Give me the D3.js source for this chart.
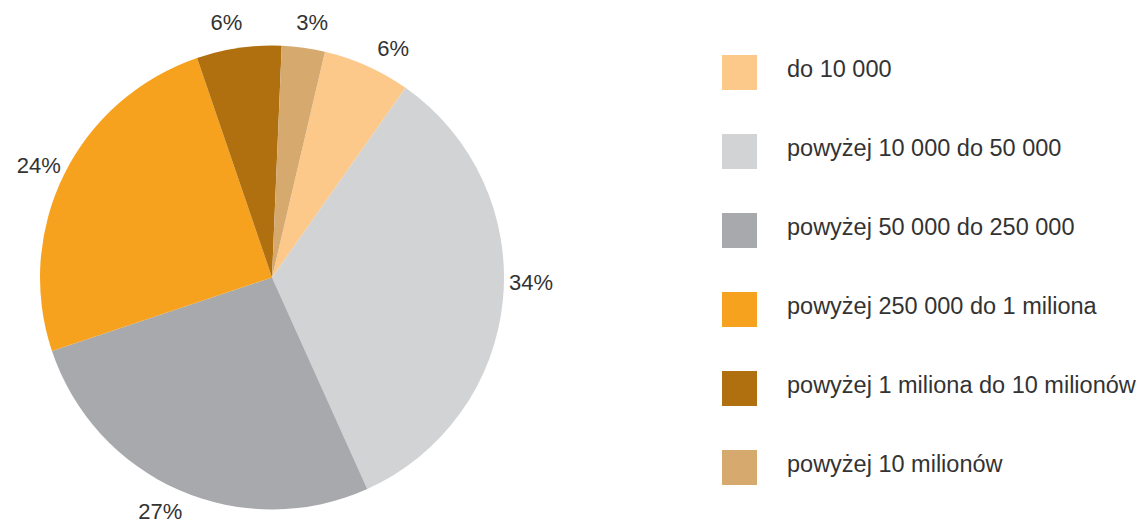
<!DOCTYPE html>
<html>
<head>
<meta charset="utf-8">
<script src="https://cdn.jsdelivr.net/npm/d3@7"></script>
<style>
  html, body { margin: 0; padding: 0; background: #fff; }
  svg { display: block; }
  text { font-family: "Liberation Sans", Arial, Helvetica, sans-serif; fill: #333; }
</style>
</head>
<body>
<svg id="chart" width="1140" height="522"></svg>
<script>
const categories = [
  "do 10 000",
  "powyżej 10 000 do 50 000",
  "powyżej 50 000 do 250 000",
  "powyżej 250 000 do 1 miliona",
  "powyżej 1 miliona do 10 milionów",
  "powyżej 10 milionów"
];
// slice sizes (percent)
const values = [6.1, 33.5, 26.6, 24.9, 5.9, 3.0];
const labels = ["6%", "34%", "27%", "24%", "6%", "3%"];
const colors = ["#FDC98B", "#D1D3D4", "#A7A9AC", "#F7A21E", "#B0700F", "#D6AA6E"];

const svg = d3.select("#chart");
const cx = 272, cy = 277.5, r = 232, labelR = 259;
const start = 13.2 * Math.PI / 180;
// small angular nudges (degrees) for label placement, as in the original layout
const labelNudge = [3.7, -4.4, 1.9, -0.6, -1.9, 1.1];

const data = categories.map((c, i) => ({ name: c, value: values[i], label: labels[i], color: colors[i], nudge: labelNudge[i] }));

const pie = d3.pie().value(d => d.value).sort(null)
  .startAngle(start).endAngle(start + 2 * Math.PI);
const arc = d3.arc().innerRadius(0).outerRadius(r);

const g = svg.append("g").attr("transform", `translate(${cx},${cy})`);
const arcs = pie(data);

g.selectAll("path").data(arcs).join("path")
  .attr("d", arc)
  .attr("fill", d => d.data.color);

g.selectAll("text.lbl").data(arcs).join("text")
  .attr("class", "lbl")
  .attr("transform", d => {
    const a = (d.startAngle + d.endAngle) / 2 + d.data.nudge * Math.PI / 180;
    return `translate(${labelR * Math.sin(a)},${-labelR * Math.cos(a)})`;
  })
  .attr("text-anchor", "middle")
  .attr("dy", "0.36em")
  .style("font-size", "22px")
  .text(d => d.data.label);

// legend
const ly = d3.scalePoint().domain(categories).range([72.5, 467.5]);
const leg = svg.append("g");
const items = leg.selectAll("g").data(data).join("g")
  .attr("transform", d => `translate(722,${ly(d.name)})`);
items.append("rect")
  .attr("x", 0).attr("y", -17.5).attr("width", 35).attr("height", 35)
  .attr("fill", d => d.color);
items.append("text")
  .attr("x", 65).attr("y", -4).attr("dy", "0.36em")
  .style("font-size", "23.5px")
  .text(d => d.name);
</script>
</body>
</html>
